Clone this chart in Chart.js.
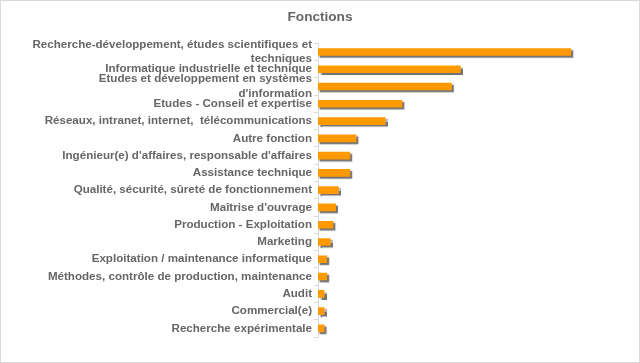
<!DOCTYPE html>
<html>
<head>
<meta charset="utf-8">
<script src="https://cdn.jsdelivr.net/npm/chart.js@4.4.0/dist/chart.umd.min.js"></script>
<style>
    html, body { margin: 0; padding: 0; background: #fff; }
    #wrap {
        width: 640px; height: 363px;
        box-sizing: border-box;
        border: 1px solid #d9d9d9;
        position: relative;
    }
</style>
</head>
<body>
<div id="wrap"><canvas id="chart"></canvas></div>
<script>
// Categories (top to bottom) and share per function, in %
const categories = [
    ['Recherche-développement, études scientifiques et', 'techniques'],
    'Informatique industrielle et technique',
    ['Etudes et développement en systèmes', "d'information"],
    'Etudes - Conseil et expertise',
    'Réseaux, intranet, internet,  télécommunications',
    'Autre fonction',
    "Ingénieur(e) d'affaires, responsable d'affaires",
    'Assistance technique',
    'Qualité, sécurité, sûreté de fonctionnement',
    "Maîtrise d'ouvrage",
    'Production - Exploitation',
    'Marketing',
    'Exploitation / maintenance informatique',
    'Méthodes, contrôle de production, maintenance',
    'Audit',
    'Commercial(e)',
    'Recherche expérimentale'
];
const values = [28.6, 16.1, 15.1, 9.5, 7.6, 4.3, 3.6, 3.6, 2.3, 2.0, 1.7, 1.4, 1.0, 1.0, 0.7, 0.7, 0.7];

const textColor = '#666666';

// Dark drop shadow under each bar, like the original
const barShadow = {
    id: 'barShadow',
    beforeDatasetsDraw(chart) {
        const ctx = chart.ctx;
        ctx.save();
        ctx.shadowColor = 'rgba(100, 100, 100, 0.9)';
        ctx.shadowOffsetX = 2;
        ctx.shadowOffsetY = 2;
        ctx.shadowBlur = 1;
    },
    afterDatasetsDraw(chart) {
        chart.ctx.restore();
    }
};

new Chart(document.getElementById('chart'), {
    type: 'bar',
    data: {
        labels: categories,
        datasets: [{
            label: 'Fonctions',
            data: values,
            backgroundColor: '#ff9900',
            borderWidth: 0,
            barThickness: 7
        }]
    },
    options: {
        indexAxis: 'y',
        responsive: true,
        maintainAspectRatio: false,
        animation: false,
        layout: { padding: { top: 0, right: 0, bottom: 25, left: 0 } },
        plugins: {
            legend: { display: false },
            tooltip: { enabled: false },
            title: {
                display: true,
                text: 'Fonctions',
                color: textColor,
                font: { family: 'Liberation Sans, Arial, sans-serif', size: 13.6, weight: 'bold' },
                padding: { top: 8, bottom: 18 }
            }
        },
        scales: {
            x: {
                display: false,
                min: 0,
                max: 36.3
            },
            y: {
                afterFit(scale) { scale.width = 317; },
                border: { display: true, color: '#d9d9d9' },
                grid: {
                    drawOnChartArea: false,
                    tickLength: 4,
                    color: '#d9d9d9'
                },
                ticks: {
                    color: textColor,
                    padding: 2,
                    autoSkip: false,
                    font: { family: 'Liberation Sans, Arial, sans-serif', size: 11.6, weight: 'bold', lineHeight: 1.25 }
                }
            }
        }
    },
    plugins: [barShadow]
});
</script>
</body>
</html>
